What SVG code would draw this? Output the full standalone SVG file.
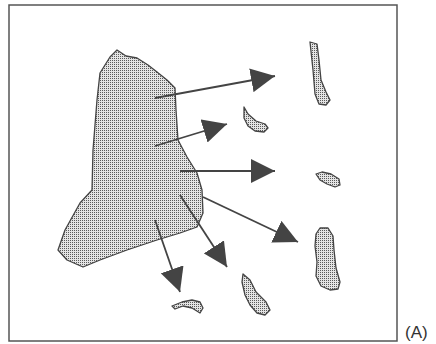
<svg xmlns="http://www.w3.org/2000/svg" width="436" height="344" viewBox="0 0 436 344">
<style>
.land{fill:url(#dots);stroke:#444;stroke-width:1.3;stroke-linejoin:round}
.arr{stroke:#444;stroke-width:1.8;fill:none;marker-end:url(#head)}
.lbl{font-family:"Liberation Sans",Arial,sans-serif;font-size:17px;fill:#333}
</style>
<defs>
<pattern id="dots" width="2" height="2" patternUnits="userSpaceOnUse">
<rect width="2" height="2" fill="#e4e4e4"/>
<rect x="0" y="0" width="1" height="1" fill="#5a5a5a"/>
</pattern>
<marker id="head" markerUnits="userSpaceOnUse" markerWidth="26" markerHeight="24" refX="24" refY="12" orient="auto">
<path d="M0,0 L24,12 L0,24 Z" fill="#444"/>
</marker>
</defs>
<rect x="9" y="5" width="388" height="336" fill="#fff" stroke="#555" stroke-width="1.5"/>
<g id="mainland"><path class="land" d="M117,50 L126,56 L137,58 L148,65 L157,72 L167,80 L175,88 L176,110 L178,140 L187,157 L197,173 L202,190 L203,213 L197,227 L180,233 L157,240 L127,250 L100,260 L83,267 L67,260 L58,250 L65,230 L80,203 L92,190 L93,150 L97,100 L100,73 L110,57 Z"/></g>
<g id="island-a"><path class="land" d="M310,42 L317,44 L319,60 L321,80 L326,92 L330,100 L326,105 L319,104 L315,94 L313,70 Z"/></g>
<g id="island-b"><path class="land" d="M244,107 L248,114 L256,121 L265,124 L268,128 L264,132 L255,131 L248,126 L244,118 Z"/></g>
<g id="island-c"><path class="land" d="M316,174 L322,172 L331,174 L339,179 L340,185 L335,187 L327,184 L320,180 Z"/></g>
<g id="island-d"><path class="land" d="M320,228 L328,228 L333,236 L334,250 L336,268 L340,282 L338,289 L330,290 L321,286 L316,276 L317,262 L315,246 L316,234 Z"/></g>
<g id="island-e"><path class="land" d="M243,274 L250,280 L256,292 L266,302 L270,310 L265,315 L257,313 L250,305 L245,295 L242,282 Z"/></g>
<g id="island-f"><path class="land" d="M172,306 L182,302 L192,300 L200,302 L203,308 L200,313 L192,308 L183,306 L175,309 Z"/></g>
<g id="connectors">
<line class="arr" x1="155" y1="98" x2="275" y2="76"/>
<line class="arr" x1="155" y1="146" x2="227" y2="124"/>
<line class="arr" x1="180" y1="171" x2="275" y2="171"/>
<line class="arr" x1="203" y1="197" x2="298" y2="242"/>
<line class="arr" x1="180" y1="195" x2="227" y2="267"/>
<line class="arr" x1="155" y1="220" x2="180" y2="292"/>
</g>
<text class="lbl" x="405" y="338">(A)</text>
</svg>
